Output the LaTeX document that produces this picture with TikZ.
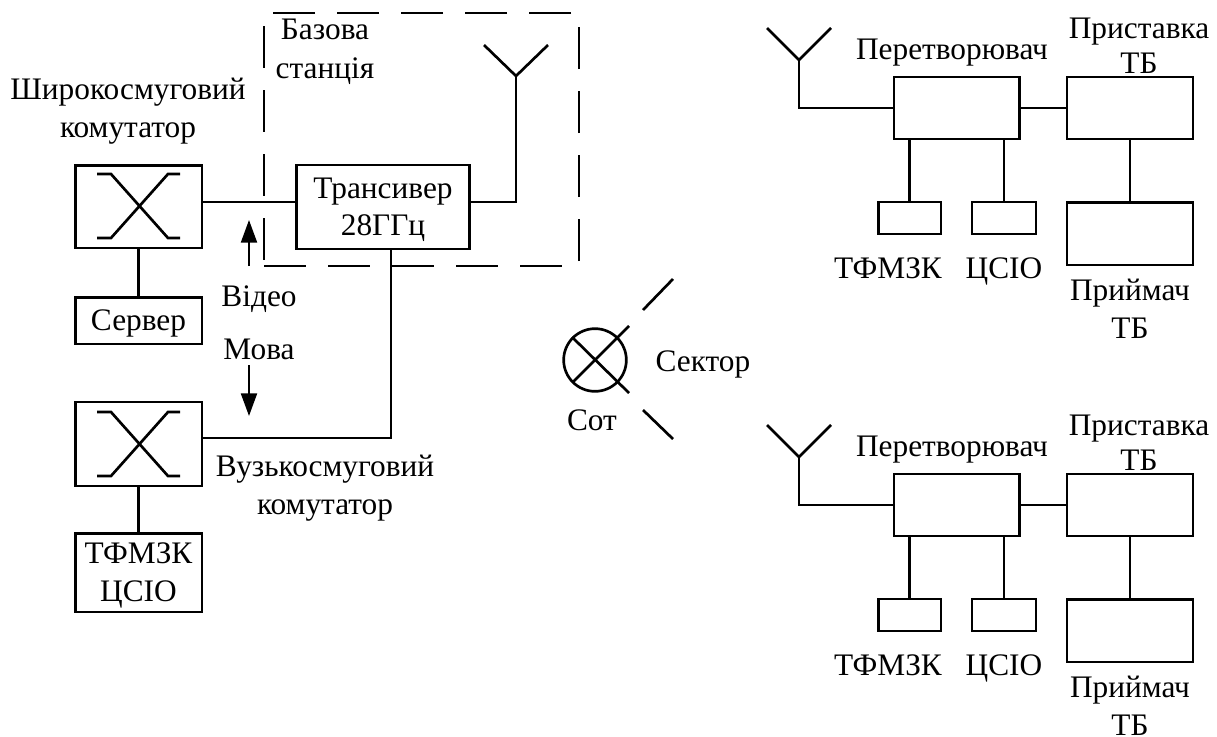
\documentclass[tikz,border=0pt]{standalone}
\usepackage{fontspec}
\setmainfont{Liberation Serif}
\usetikzlibrary{arrows.meta}

\begin{document}
\begin{tikzpicture}[x=0.75pt,y=-0.75pt]
    \tikzset{wire/.style={line width=2pt},
        box/.style={draw,line width=2pt,inner sep=0pt,outer sep=0pt},
        txt/.style={font=\fontsize{23.5}{28}\selectfont,inner sep=0pt,align=center},
        flow/.style={line width=1.6pt,-{Stealth[length=17pt,width=12pt,inset=0pt]}}}
    \useasboundingbox (0,0) rectangle (1217,736);

    % base station outline
    \draw[line width=2pt,dash pattern=on 31.5pt off 16.5pt] (264,266) -- (579,266) -- (579,13) -- (264,13) -- cycle;
    \node[txt] (basestn) at (325,52) {Базова\\[1.5pt]станція};

    % left side boxes
    \node[box,minimum width=95pt,minimum height=62pt] (wide) at (138.5,206.5) {};
    \node[box,minimum width=95pt,minimum height=35pt] (srv) at (138.5,320.5) {};
    \node[box,minimum width=130pt,minimum height=63pt] (trans) at (383,207) {};
    \node[box,minimum width=95pt,minimum height=63pt] (narrow) at (138.5,444) {};
    \node[box,minimum width=95pt,minimum height=59pt] (tfm) at (138.5,572.5) {};
    \node[txt] (srvlbl) at (138.5,323.5) {Сервер};
    \node[txt] (translbl) at (383,210) {Трансивер\\28ГГц};
    \node[txt] (tfmlbl) at (138.5,575.5) {ТФМЗК\\ЦСІО};
    \node[txt] (widelbl) at (128,111) {Широкосмуговий\\комутатор};
    \node[txt] (narrowlbl) at (325,488) {Вузькосмуговий\\комутатор};
    \node[txt] (video) at (259,299) {Відео};
    \node[txt] (speech) at (259,349) {Мова};

    % crossing symbols in the switches
    \foreach \dy in {0,238} {
        \begin{scope}[shift={(0,\dy)}]
            \draw[wire] (97,174) -- (111,174) -- (168,238) -- (180,238);
            \draw[wire] (97,238) -- (111,238) -- (168,174) -- (180,174);
        \end{scope}
    }

    % left side links
    \coordinate (anttop) at (516,76);
    \coordinate (anttap) at (516,202);
    \coordinate (downtap) at (391,438);
    \coordinate (upfrom) at (249,266);
    \coordinate (upto) at (249,220);
    \coordinate (downfrom) at (249,365);
    \coordinate (downto) at (249,416);
    \draw[wire] (wide.east |- anttap) -- (trans.west |- anttap);
    \draw[wire] (trans.east |- anttap) -- (anttap) -- (anttop);
    \draw[wire] (484,45) -- (anttop) -- (548,45);
    \draw[wire] (wide) -- (srv);
    \draw[wire] (narrow) -- (tfm);
    \draw[wire] (trans.south -| downtap) -- (downtap) -- (narrow.east |- downtap);
    \draw[flow] (upfrom) -- (upto);
    \draw[flow] (downfrom) -- (downto);

    % cell with sectors
    \node[circle,draw,line width=2pt,minimum size=47pt,inner sep=0pt,outer sep=0pt] (cell) at (595,360) {};
    \draw[wire] (cell.center) ++(-22,22) -- (629,326);
    \draw[wire] (cell.center) ++(-23,-23) -- (629,393);
    \draw[wire] (643,310) -- (673,279);
    \draw[wire] (643,410) -- (673,439);
    \node[txt] (sectorlbl) at (703,364) {Сектор};
    \node[txt] (celllbl) at (592,420) {Сот};

    % right side groups
    \foreach \grp/\dy in {up/0,dn/397} {
        \begin{scope}[shift={(0,\dy)}]
            \node[box,minimum width=94pt,minimum height=46.5pt] (conv\grp) at (956.5,108) {};
            \node[box,minimum width=94.5pt,minimum height=46.5pt] (stb\grp) at (1130,108) {};
            \node[box,minimum width=94.5pt,minimum height=47pt] (rcv\grp) at (1130,233.5) {};
            \node[box,minimum width=47pt,minimum height=24pt] (fone\grp) at (909.5,218) {};
            \node[box,minimum width=48pt,minimum height=24pt] (data\grp) at (1004,218) {};
            \coordinate (ant\grp) at (799,60);
            \coordinate (tap\grp) at (799,108);
            \draw[wire] (767,28) -- (ant\grp) -- (831,28);
            \draw[wire] (ant\grp) -- (tap\grp) -- (conv\grp);
            \draw[wire] (conv\grp) -- (stb\grp);
            \draw[wire] (stb\grp) -- (rcv\grp);
            \draw[wire] (fone\grp) -- (fone\grp |- conv\grp.south);
            \draw[wire] (data\grp) -- (data\grp |- conv\grp.south);
            \node[txt] (convlbl\grp) at (952,53) {Перетворювач};
            \node[txt] (stblbl\grp) at (1139,45.5) {Приставка\\[-2pt]ТБ};
            \node[txt] (fonelbl\grp) at (888,268) {ТФМЗК};
            \node[txt] (datalbl\grp) at (1004,271) {ЦСІО};
            \node[txt] (rcvlbl\grp) at (1130,308.5) {Приймач\\[0.5pt]ТБ};
        \end{scope}
    }
\end{tikzpicture}
\end{document}
